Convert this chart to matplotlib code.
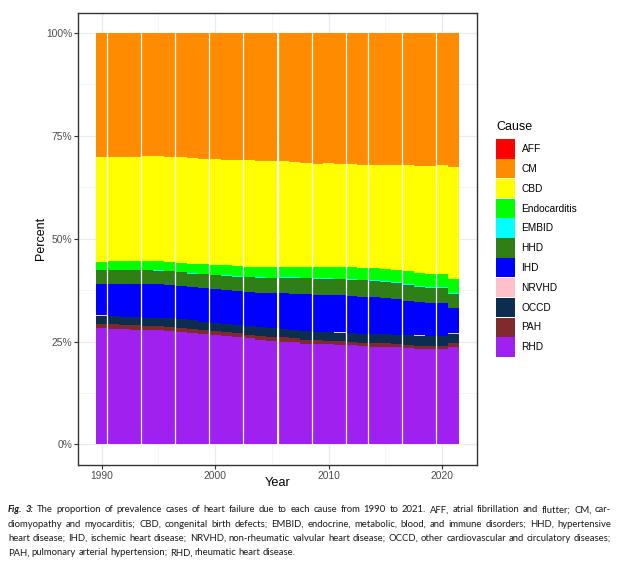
import numpy as np
import matplotlib
matplotlib.use("Agg")
import matplotlib.pyplot as plt
from matplotlib.patches import Rectangle

years = list(range(1990, 2022))

# share of prevalence cases (%) by cause
AFF = [0.02] * 32
CM = [30.17, 30.17, 30.17, 30.17, 29.93, 29.93, 30.17, 30.17, 30.41, 30.66,
      30.66, 30.90, 30.90, 30.90, 31.14, 31.14, 31.14, 31.39, 31.63, 31.87,
      31.63, 31.87, 31.87, 32.12, 32.12, 32.12, 32.12, 32.12, 32.36, 32.36,
      32.12, 32.60]
CBD = [25.55, 25.30, 25.30, 25.30, 25.54, 25.54, 25.55, 25.79, 25.79, 25.54,
       25.79, 25.55, 25.79, 26.03, 25.79, 25.79, 25.79, 25.54, 25.30, 25.06,
       25.30, 25.06, 25.06, 25.06, 25.06, 25.30, 25.54, 25.79, 26.03, 26.28,
       26.52, 27.25]
Endocarditis = [1.84, 2.09, 2.09, 2.09, 2.09, 2.19, 2.09, 2.09, 2.19, 2.34,
                2.33, 2.43, 2.43, 2.34, 2.44, 2.58, 2.44, 2.44, 2.50, 2.68,
                2.68, 2.82, 2.92, 2.82, 2.92, 2.84, 2.92, 3.08, 3.09, 3.16,
                3.16, 3.33]
EMBID = [0.10, 0.10, 0.10, 0.10, 0.10, 0.25, 0.10, 0.10, 0.25, 0.10,
         0.10, 0.24, 0.25, 0.10, 0.24, 0.10, 0.16, 0.16, 0.10, 0.24,
         0.24, 0.10, 0.25, 0.10, 0.24, 0.24, 0.25, 0.24, 0.24, 0.16,
         0.24, 0.24]
HHD = [3.41, 3.41, 3.41, 3.41, 3.41, 3.16, 3.40, 3.41, 3.16, 3.40,
       3.41, 3.41, 3.40, 3.65, 3.65, 3.65, 3.73, 3.97, 3.97, 3.90,
       3.90, 3.90, 3.89, 4.13, 3.89, 3.89, 3.81, 3.90, 3.65, 3.65,
       3.57, 3.41]
IHD = [7.52, 7.69, 7.93, 7.93, 8.17, 8.17, 7.93, 7.93, 7.93, 8.18,
       8.17, 8.17, 8.18, 8.17, 8.17, 8.42, 8.66, 8.66, 8.91, 8.90,
       8.90, 9.00, 8.90, 8.91, 8.91, 8.67, 8.74, 8.25, 8.11, 8.01,
       8.01, 6.08]
NRVHD = [0.10, 0.10, 0.10, 0.10, 0.10, 0.10, 0.10, 0.10, 0.10, 0.10,
         0.10, 0.10, 0.10, 0.10, 0.10, 0.10, 0.10, 0.10, 0.10, 0.10,
         0.10, 0.24, 0.10, 0.10, 0.10, 0.10, 0.10, 0.10, 0.24, 0.10,
         0.10, 0.25]
OCCD = [2.11, 1.94, 1.95, 1.95, 1.95, 1.95, 2.19, 2.19, 2.19, 1.94,
        1.95, 1.95, 1.94, 2.19, 2.19, 2.19, 1.95, 1.95, 2.19, 1.95,
        2.19, 1.95, 2.19, 2.19, 2.19, 2.19, 2.19, 2.35, 2.36, 2.36,
        2.36, 2.19]
PAH = [0.98, 1.22, 0.97, 1.21, 0.97, 0.97, 0.98, 0.97, 0.97, 0.98,
       0.97, 0.97, 0.98, 0.73, 0.98, 0.97, 1.21, 0.97, 0.97, 0.97,
       0.73, 0.97, 0.73, 0.73, 0.97, 0.97, 0.65, 0.73, 0.73, 0.73,
       0.73, 0.97]
RHD = [28.22, 27.98, 27.98, 27.74, 27.74, 27.74, 27.49, 27.25, 27.01, 26.76,
       26.52, 26.28, 26.03, 25.79, 25.30, 25.06, 24.82, 24.82, 24.33, 24.33,
       24.33, 24.09, 24.09, 23.84, 23.60, 23.68, 23.68, 23.44, 23.19, 23.19,
       23.19, 23.68]

causes = ["AFF", "CM", "CBD", "Endocarditis", "EMBID", "HHD", "IHD",
          "NRVHD", "OCCD", "PAH", "RHD"]
values = [AFF, CM, CBD, Endocarditis, EMBID, HHD, IHD, NRVHD, OCCD, PAH, RHD]
colors = ["#FF0000", "#FF8C00", "#FFFF00", "#00FF00", "#00FFFF", "#2F7E16",
          "#0000FF", "#FFC0CB", "#0B2D50", "#7F2B2B", "#A020F0"]

caption = [
    "Fig. 3: The proportion of prevalence cases of heart failure due to each cause from 1990 to 2021. AFF, atrial fibrillation and flutter; CM, car-",
    "diomyopathy and myocarditis; CBD, congenital birth defects; EMBID, endocrine, metabolic, blood, and immune disorders; HHD, hypertensive",
    "heart disease; IHD, ischemic heart disease; NRVHD, non-rheumatic valvular heart disease; OCCD, other cardiovascular and circulatory diseases;",
    "PAH, pulmonary arterial hypertension; RHD, rheumatic heart disease.",
]

plt.rcParams["font.family"] = ["Liberation Sans", "DejaVu Sans"]

W, H = 624, 567
fig = plt.figure(figsize=(W / 100, H / 100), dpi=100)
ax = fig.add_axes([78 / W, 1 - 465 / H, 399 / W, 452.5 / H])

data = np.array(values, dtype=float)
data = data / data.sum(axis=0)   # position = "fill"

# stack from the bottom: last cause first
bottom = np.zeros(len(years))
for k in range(len(causes) - 1, -1, -1):
    ax.bar(years, data[k], width=1.0, bottom=bottom, color=colors[k],
           linewidth=0, zorder=2)
    bottom += data[k]

# thin white seams between some bars (as in the rendered original)
seams = [years[i] + 0.5 for i in [0, 3, 6, 9, 12, 15, 18, 21, 23, 26, 29]]
ax.vlines(seams, 0, 1, colors="white", linewidth=0.9, zorder=3)

ax.set_xlim(1987.9, 2023.1)
ax.set_ylim(-0.05, 1.05)
ax.set_xticks([1990, 2000, 2010, 2020])
ax.set_xticks([1995, 2005, 2015], minor=True)
ax.set_yticks([0, 0.25, 0.5, 0.75, 1.0])
ax.set_yticks([0.125, 0.375, 0.625, 0.875], minor=True)
ax.set_yticklabels(["0%", "25%", "50%", "75%", "100%"])
ax.grid(True, which="major", color="#EBEBEB", linewidth=0.9, zorder=0)
ax.grid(True, which="minor", color="#F2F2F2", linewidth=0.5, zorder=0)
ax.set_axisbelow(True)
ax.tick_params(axis="both", which="major", labelsize=7.4, labelcolor="#4D4D4D",
               color="#333333", length=2.8, width=0.8, pad=1.2)
ax.tick_params(axis="both", which="minor", length=0)
for s in ax.spines.values():
    s.set_color("#333333")
    s.set_linewidth(1.0)
ax.set_xlabel("Year", fontsize=9.2)
ax.set_ylabel("Percent", fontsize=9.0)
ax.xaxis.set_label_coords(0.5, -0.026)
ax.yaxis.set_label_coords(-0.078, 0.5)

# legend, drawn like ggplot's guide
fig.text(496 / W, 1 - 127 / H, "Cause", fontsize=9, va="center", ha="left")
for k, (name, c) in enumerate(zip(causes, colors)):
    top = 139.3 + 19.8 * k
    fig.add_artist(Rectangle((496 / W, 1 - (top + 19.3) / H), 19 / W, 19.3 / H,
                             facecolor=c, edgecolor="none",
                             transform=fig.transFigure))
    fig.text(521.5 / W, 1 - (top + 9.9) / H, name, fontsize=7.3,
             va="center", ha="left")

# caption, justified between x = 8 and x = 611 px
fig.canvas.draw()
rend = fig.canvas.get_renderer()
cap_font = ["Lato", "DejaVu Sans"]


def word_widths(words, size):
    out = []
    for i, w in enumerate(words):
        bold = i < 2 and words[:2] == ["Fig.", "3:"]
        t = fig.text(0, 0, w, fontsize=size, family=cap_font,
                     fontweight="bold" if bold else "normal",
                     style="italic" if bold else "normal")
        out.append(t.get_window_extent(rend).width)
        t.remove()
    return out


x_left, x_right = 8.0, 611.0
size = 7.4
while True:
    sp = word_widths(["a a"], size)[0] - word_widths(["aa"], size)[0]
    longest = max(sum(word_widths(ln.split(), size)) + sp * (len(ln.split()) - 1)
                  for ln in caption[:3])
    if longest <= (x_right - x_left) or size < 5:
        break
    size -= 0.05

for j, ln in enumerate(caption):
    words = ln.split()
    ws = word_widths(words, size)
    if j < len(caption) - 1:
        gap = ((x_right - x_left) - sum(ws)) / (len(words) - 1)
    else:
        gap = sp
    x = x_left
    yc = 1 - (510 + 14.3 * j) / H
    for i, (w, wd) in enumerate(zip(words, ws)):
        bold = j == 0 and i < 2
        fig.text(x / W, yc, w, fontsize=size, family=cap_font,
                 fontweight="bold" if bold else "normal",
                 style="italic" if bold else "normal",
                 color="#1a1a1a", va="center", ha="left")
        x += wd + gap

fig.savefig("out.png", dpi=100)
